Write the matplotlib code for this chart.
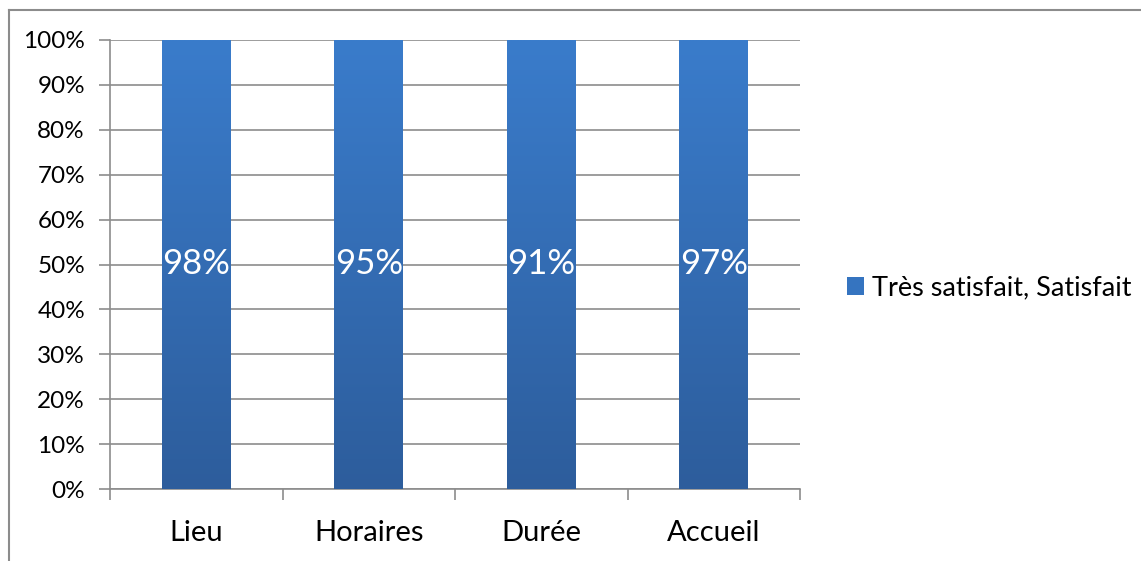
import numpy as np
import matplotlib.pyplot as plt
from matplotlib.patches import Rectangle
from matplotlib.lines import Line2D
from matplotlib.colors import LinearSegmentedColormap

plt.rcParams['font.family'] = ['Lato', 'DejaVu Sans']

# data
categories = ['Lieu', 'Horaires', 'Durée', 'Accueil']
satisfied = [98, 95, 91, 97]
series_name = 'Très satisfait, Satisfait'

fig = plt.figure(figsize=(11.41, 5.61), dpi=100)
ax = fig.add_axes([110 / 1141, 72 / 561, 690 / 1141, 449 / 561])

# 100% stacked column with one series: every bar fills the column
x = np.arange(len(categories))
shares = [100.0 for v in satisfied]
bars = ax.bar(x, shares, width=0.4, color='#3574c0', zorder=3)

# vertical gradient inside each bar
grad = np.linspace(0, 1, 256).reshape(-1, 1)
cmap = LinearSegmentedColormap.from_list('bar', ['#2d5d9c', '#3a7ccb'])
for b in bars:
    im = ax.imshow(grad, cmap=cmap, origin='lower', aspect='auto', zorder=4,
                   extent=[b.get_x(), b.get_x() + b.get_width(), 0, 100])
    im.set_clip_path(b)

for xi, v in zip(x, satisfied):
    ax.text(xi, 50, f'{v}%', ha='center', va='center', color='white',
            fontsize=25, zorder=5)

ax.set_xlim(-0.5, len(categories) - 0.5)
ax.set_ylim(0, 100)
ax.set_yticks(range(0, 101, 10))
ax.set_yticklabels([f'{t}%' for t in range(0, 101, 10)])
ax.yaxis.grid(True, color='#8c8c8c', linewidth=1.2, zorder=0)
ax.set_axisbelow(True)

ax.set_xticks(x)
ax.set_xticklabels(categories)
ax.set_xticks(np.arange(-0.5, len(categories)), minor=True)
ax.tick_params(axis='x', which='major', length=0, pad=22, labelsize=21)
ax.tick_params(axis='x', which='minor', length=8, width=1.2, color='#8c8c8c', direction='out')
ax.tick_params(axis='y', length=8, width=1.2, color='#8c8c8c', pad=10, labelsize=17.5)

for s in ['top', 'right']:
    ax.spines[s].set_visible(False)
for s in ['left', 'bottom']:
    ax.spines[s].set_color('#8c8c8c')
    ax.spines[s].set_linewidth(1.2)

# legend
handle = Rectangle((0, 0), 1, 1, facecolor='#3574c0')
fig.legend([handle], [series_name], loc='center left', bbox_to_anchor=(823 / 1141, 1 - 288 / 561),
           frameon=False, fontsize=19.5, handlelength=0.6, handleheight=0.6, handletextpad=0.3)

# chart border
fig.add_artist(Line2D([9 / 1141, 9 / 1141], [0, 1 - 10 / 561], transform=fig.transFigure,
                      color='#8c8c8c', linewidth=1.5))
fig.add_artist(Line2D([9 / 1141, 1], [1 - 10 / 561, 1 - 10 / 561], transform=fig.transFigure,
                      color='#8c8c8c', linewidth=1.5))

fig.savefig('out.png', dpi=100)
